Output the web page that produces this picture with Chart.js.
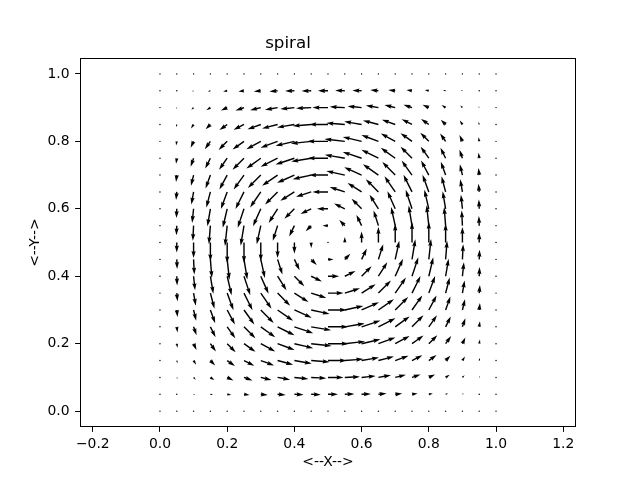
<!DOCTYPE html>
<html lang="en">
<head>
<meta charset="UTF-8">
<title>spiral</title>
<script src="https://cdn.jsdelivr.net/npm/chart.js"></script>
<style>
    body { margin: 0; background: white; }
    #wrap { width: 640px; height: 480px; }
</style>
</head>
<body>
<div id="wrap"><canvas id="quiverChart"></canvas></div>
<script>
    // grid positions (21 x 21)
    const gridX = [0, 0.05, 0.1, 0.15, 0.2, 0.25, 0.3, 0.35, 0.4, 0.45, 0.5, 0.55, 0.6, 0.65, 0.7, 0.75, 0.8, 0.85, 0.9, 0.95, 1.0];
    const gridY = [0, 0.05, 0.1, 0.15, 0.2, 0.25, 0.3, 0.35, 0.4, 0.45, 0.5, 0.55, 0.6, 0.65, 0.7, 0.75, 0.8, 0.85, 0.9, 0.95, 1.0];

    const xTicks = [-0.2, 0, 0.2, 0.4, 0.6, 0.8, 1.0, 1.2];
    const yTicks = [0, 0.2, 0.4, 0.6, 0.8, 1.0];

    // horizontal component, one row per gridY value (bottom row first)
    const uRows = [
        [0, 0, 0, 0, 0, 0, 0, 0, 0, 0, 0, 0, 0, 0, 0, 0, 0, 0, 0, 0, 0],
        [0, .01, .04, .07, .11, .15, .19, .22, .25, .26, .27, .26, .25, .22, .19, .15, .11, .07, .04, .01, 0],
        [0, .02, .06, .11, .17, .23, .29, .34, .38, .41, .42, .41, .38, .34, .29, .23, .17, .11, .06, .02, 0],
        [0, .02, .07, .13, .21, .28, .36, .42, .47, .50, .51, .50, .47, .42, .36, .28, .21, .13, .07, .02, 0],
        [0, .02, .08, .15, .23, .31, .39, .46, .51, .55, .56, .55, .51, .46, .39, .31, .23, .15, .08, .02, 0],
        [0, .02, .08, .14, .22, .31, .39, .46, .51, .54, .55, .54, .51, .46, .39, .31, .22, .14, .08, .02, 0],
        [0, .02, .07, .13, .21, .28, .35, .42, .47, .50, .51, .50, .47, .42, .35, .28, .21, .13, .07, .02, 0],
        [0, .02, .06, .11, .17, .23, .29, .34, .38, .41, .42, .41, .38, .34, .29, .23, .17, .11, .06, .02, 0],
        [0, .01, .04, .08, .12, .17, .21, .24, .27, .29, .30, .29, .27, .24, .21, .17, .12, .08, .04, .01, 0],
        [0, .01, .02, .04, .06, .09, .11, .13, .14, .15, .15, .15, .14, .13, .11, .09, .06, .04, .02, .01, 0],
        [0, 0, 0, 0, 0, 0, 0, 0, 0, 0, 0, 0, 0, 0, 0, 0, 0, 0, 0, 0, 0],
        [0, -.01, -.02, -.04, -.06, -.09, -.11, -.13, -.14, -.15, -.15, -.15, -.14, -.13, -.11, -.09, -.06, -.04, -.02, -.01, 0],
        [0, -.01, -.04, -.08, -.12, -.17, -.21, -.24, -.27, -.29, -.30, -.29, -.27, -.24, -.21, -.17, -.12, -.08, -.04, -.01, 0],
        [0, -.02, -.06, -.11, -.17, -.23, -.29, -.34, -.38, -.41, -.42, -.41, -.38, -.34, -.29, -.23, -.17, -.11, -.06, -.02, 0],
        [0, -.02, -.07, -.13, -.21, -.28, -.35, -.42, -.47, -.50, -.51, -.50, -.47, -.42, -.35, -.28, -.21, -.13, -.07, -.02, 0],
        [0, -.02, -.08, -.14, -.22, -.31, -.39, -.46, -.51, -.54, -.55, -.54, -.51, -.46, -.39, -.31, -.22, -.14, -.08, -.02, 0],
        [0, -.02, -.08, -.15, -.23, -.31, -.39, -.46, -.51, -.55, -.56, -.55, -.51, -.46, -.39, -.31, -.23, -.15, -.08, -.02, 0],
        [0, -.02, -.07, -.13, -.21, -.28, -.36, -.42, -.47, -.50, -.51, -.50, -.47, -.42, -.36, -.28, -.21, -.13, -.07, -.02, 0],
        [0, -.02, -.06, -.11, -.17, -.23, -.29, -.34, -.38, -.41, -.42, -.41, -.38, -.34, -.29, -.23, -.17, -.11, -.06, -.02, 0],
        [0, -.01, -.04, -.07, -.11, -.15, -.19, -.22, -.25, -.26, -.27, -.26, -.25, -.22, -.19, -.15, -.11, -.07, -.04, -.01, 0],
        [0, 0, 0, 0, 0, 0, 0, 0, 0, 0, 0, 0, 0, 0, 0, 0, 0, 0, 0, 0, 0]
    ];

    // vertical component, same layout
    const vRows = [
        [0, 0, 0, 0, 0, 0, 0, 0, 0, 0, 0, 0, 0, 0, 0, 0, 0, 0, 0, 0, 0],
        [0, -.01, -.02, -.02, -.02, -.02, -.02, -.02, -.01, -.01, 0, .01, .01, .02, .02, .02, .02, .02, .02, .01, 0],
        [0, -.04, -.06, -.07, -.08, -.08, -.07, -.06, -.04, -.02, 0, .02, .04, .06, .07, .08, .08, .07, .06, .04, 0],
        [0, -.07, -.11, -.13, -.15, -.14, -.13, -.11, -.08, -.04, 0, .04, .08, .11, .13, .14, .15, .13, .11, .07, 0],
        [0, -.11, -.17, -.21, -.23, -.22, -.21, -.17, -.12, -.06, 0, .06, .12, .17, .21, .22, .23, .21, .17, .11, 0],
        [0, -.15, -.23, -.28, -.31, -.31, -.28, -.23, -.17, -.09, 0, .09, .17, .23, .28, .31, .31, .28, .23, .15, 0],
        [0, -.19, -.29, -.36, -.39, -.39, -.35, -.29, -.21, -.11, 0, .11, .21, .29, .35, .39, .39, .36, .29, .19, 0],
        [0, -.22, -.34, -.42, -.46, -.46, -.42, -.34, -.24, -.13, 0, .13, .24, .34, .42, .46, .46, .42, .34, .22, 0],
        [0, -.25, -.38, -.47, -.51, -.51, -.47, -.38, -.27, -.14, 0, .14, .27, .38, .47, .51, .51, .47, .38, .25, 0],
        [0, -.26, -.41, -.50, -.55, -.54, -.50, -.41, -.29, -.15, 0, .15, .29, .41, .50, .54, .55, .50, .41, .26, 0],
        [0, -.27, -.42, -.51, -.56, -.55, -.51, -.42, -.30, -.15, 0, .15, .30, .42, .51, .55, .56, .51, .42, .27, 0],
        [0, -.26, -.41, -.50, -.55, -.54, -.50, -.41, -.29, -.15, 0, .15, .29, .41, .50, .54, .55, .50, .41, .26, 0],
        [0, -.25, -.38, -.47, -.51, -.51, -.47, -.38, -.27, -.14, 0, .14, .27, .38, .47, .51, .51, .47, .38, .25, 0],
        [0, -.22, -.34, -.42, -.46, -.46, -.42, -.34, -.24, -.13, 0, .13, .24, .34, .42, .46, .46, .42, .34, .22, 0],
        [0, -.19, -.29, -.36, -.39, -.39, -.35, -.29, -.21, -.11, 0, .11, .21, .29, .35, .39, .39, .36, .29, .19, 0],
        [0, -.15, -.23, -.28, -.31, -.31, -.28, -.23, -.17, -.09, 0, .09, .17, .23, .28, .31, .31, .28, .23, .15, 0],
        [0, -.11, -.17, -.21, -.23, -.22, -.21, -.17, -.12, -.06, 0, .06, .12, .17, .21, .22, .23, .21, .17, .11, 0],
        [0, -.07, -.11, -.13, -.15, -.14, -.13, -.11, -.08, -.04, 0, .04, .08, .11, .13, .14, .15, .13, .11, .07, 0],
        [0, -.04, -.06, -.07, -.08, -.08, -.07, -.06, -.04, -.02, 0, .02, .04, .06, .07, .08, .08, .07, .06, .04, 0],
        [0, -.01, -.02, -.02, -.02, -.02, -.02, -.02, -.01, -.01, 0, .01, .01, .02, .02, .02, .02, .02, .02, .01, 0],
        [0, 0, 0, 0, 0, 0, 0, 0, 0, 0, 0, 0, 0, 0, 0, 0, 0, 0, 0, 0, 0]
    ];

    const arrowScale = 0.11;   // data units per unit of vector magnitude
    const shaftWidth = 1.42;   // px

    const points = [];
    gridY.forEach((yv, j) => {
        gridX.forEach((xv, i) => {
            points.push({ x: xv, y: yv, u: uRows[j][i], v: vRows[j][i] });
        });
    });

    // draws a matplotlib style quiver arrow at every data point
    const quiverArrows = {
        id: 'quiverArrows',
        afterDatasetsDraw(chart) {
            const { ctx, scales: { x, y } } = chart;
            const w = shaftWidth;
            const minsh = 5 * w;
            const meta = chart.getDatasetMeta(0);
            const data = chart.data.datasets[0].data;
            ctx.save();
            ctx.fillStyle = '#000';
            meta.data.forEach((el, i) => {
                const d = data[i];
                const x0 = el.x, y0 = el.y;
                const dx = x.getPixelForValue(d.x + d.u * arrowScale) - x0;
                const dy = y.getPixelForValue(d.y + d.v * arrowScale) - y0;
                const len = Math.hypot(dx, dy);
                ctx.save();
                ctx.translate(x0, y0);
                ctx.rotate(Math.atan2(dy, dx));
                ctx.beginPath();
                if (len < w) {
                    ctx.arc(0, 0, w / 2, 0, Math.PI * 2);
                } else {
                    let pts;
                    if (len >= minsh) {
                        pts = [[0, 0.5 * w], [len - 4.5 * w, 0.5 * w], [len - 5 * w, 1.5 * w], [len, 0]];
                    } else {
                        const s = len / minsh;
                        pts = [[0, 0.5 * w * s], [0.5 * w * s, 0.5 * w * s], [0, 1.5 * w * s], [minsh * s, 0]];
                    }
                    ctx.moveTo(pts[0][0], pts[0][1]);
                    for (let k = 1; k < pts.length; k++) ctx.lineTo(pts[k][0], pts[k][1]);
                    for (let k = pts.length - 2; k >= 0; k--) ctx.lineTo(pts[k][0], -pts[k][1]);
                    ctx.closePath();
                }
                ctx.fill();
                ctx.restore();
            });
            ctx.restore();
        }
    };

    // axes frame on all four sides
    const frame = {
        id: 'frame',
        afterDraw(chart) {
            const { ctx, chartArea: a } = chart;
            ctx.save();
            ctx.strokeStyle = '#000';
            ctx.lineWidth = 1;
            ctx.strokeRect(Math.round(a.left) + 0.5, Math.round(a.top) + 0.5,
                Math.round(a.right - a.left) - 1, Math.round(a.bottom - a.top) - 1);
            ctx.restore();
        }
    };

    const fmt = v => (v < 0 ? '\u2212' : '') + Math.abs(v).toFixed(1);
    const tickFont = { family: 'DejaVu Sans', size: 13.9 };

    new Chart(document.getElementById('quiverChart'), {
        type: 'scatter',
        data: {
            datasets: [{
                data: points,
                pointRadius: 0,
                pointHoverRadius: 0
            }]
        },
        options: {
            responsive: true,
            maintainAspectRatio: false,
            animation: false,
            layout: { padding: { left: 0, right: 64, top: 0, bottom: 0 } },
            plugins: {
                legend: { display: false },
                tooltip: { enabled: false },
                title: {
                    display: true,
                    text: 'spiral',
                    color: '#000',
                    font: { family: 'DejaVu Sans', size: 16.7, weight: 'normal' },
                    padding: { top: 34, bottom: 4 }
                }
            },
            scales: {
                x: {
                    type: 'linear',
                    min: -0.238,
                    max: 1.238,
                    afterBuildTicks: s => { s.ticks = xTicks.map(v => ({ value: v })); },
                    afterFit: s => { s.height = 53; },
                    ticks: { color: '#000', font: tickFont, padding: 4, maxRotation: 0, callback: v => fmt(v) },
                    grid: { display: true, drawOnChartArea: false, drawTicks: true, tickLength: 4.9, tickColor: '#000' },
                    border: { display: false },
                    title: { display: true, text: '<--X-->', color: '#000', font: tickFont, padding: { top: 0, bottom: 9.7 } }
                },
                y: {
                    type: 'linear',
                    min: -0.047,
                    max: 1.047,
                    afterBuildTicks: s => { s.ticks = yTicks.map(v => ({ value: v })); },
                    afterFit: s => { s.width = 80; },
                    ticks: { color: '#000', font: tickFont, padding: 5.5, callback: v => fmt(v) },
                    grid: { display: true, drawOnChartArea: false, drawTicks: true, tickLength: 4.9, tickColor: '#000' },
                    border: { display: false },
                    title: { display: true, text: '<--Y-->', color: '#000', font: tickFont, padding: { top: 26.7, bottom: 0 } }
                }
            }
        },
        plugins: [quiverArrows, frame]
    });
</script>
</body>
</html>
